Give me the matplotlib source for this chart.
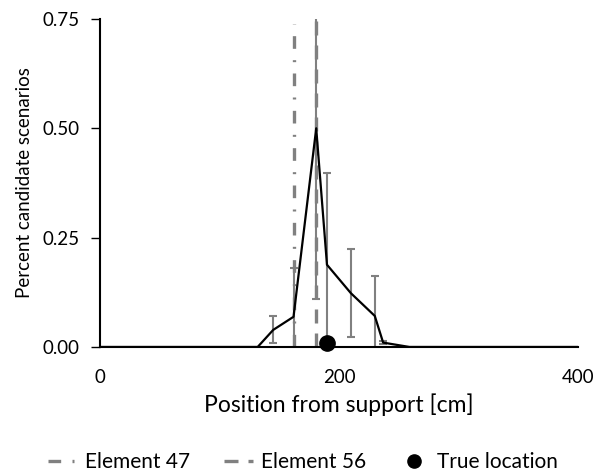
"""Candidate damage location vs. position from support."""

import matplotlib.pyplot as plt
from matplotlib.lines import Line2D

plt.rcParams["font.family"] = ["Lato", "DejaVu Sans"]
plt.rcParams["font.size"] = 13.5

# Mean share of candidate scenarios per position
pos_cm = [0, 132, 145, 162, 181, 190, 210, 230, 237, 259, 400]
share = [0.0, 0.0, 0.039, 0.069, 0.50, 0.188, 0.123, 0.071, 0.010, 0.0, 0.0]

# Error bars (position, mean, half width)
err_pos = [145, 162, 181, 190, 210, 230, 237]
err_mean = [0.039, 0.069, 0.50, 0.188, 0.123, 0.071, 0.010]
err_half = [0.031, 0.111, 0.39, 0.209, 0.100, 0.091, 0.004]

element_47 = 162
element_56 = 181
true_location = 190
true_y = 0.01

grey = "#808080"
dashdot = (0, (3.8, 3.4, 0.6, 3.4))
dashed = (0, (4.2, 3.0))

fig = plt.figure(figsize=(6.02, 4.74), dpi=100)
ax = fig.add_axes([0.166, 0.268, 0.794, 0.692])

ax.errorbar(err_pos, err_mean, yerr=err_half, fmt="none", ecolor=grey,
            elinewidth=1.5, capsize=3, capthick=1.5, zorder=2)
ax.plot(pos_cm, share, color="black", lw=1.6, zorder=3)

ax.axvline(element_47, ymin=0, ymax=0.985, color=grey, lw=2.4,
           linestyle=dashdot, zorder=2)
ax.axvline(element_56, color=grey, lw=2.4, linestyle=dashed, zorder=2)
ax.plot([true_location], [true_y], "o", color="black", ms=11, zorder=4, clip_on=False)

ax.set_xlim(0, 400)
ax.set_ylim(0, 0.75)
ax.set_xticks([0, 200, 400])
ax.set_yticks([0, 0.25, 0.5, 0.75])
ax.set_yticklabels(["0.00", "0.25", "0.50", "0.75"])
ax.tick_params(axis="x", length=0, pad=16)
ax.tick_params(axis="y", length=6.5, width=1, direction="out", pad=8)
for side in ["top", "right"]:
    ax.spines[side].set_visible(False)
for side in ["left", "bottom"]:
    ax.spines[side].set_linewidth(1.5)
ax.set_xlabel("Position from support [cm]", labelpad=5, fontsize=16.5)
ax.set_ylabel("Percent candidate scenarios", labelpad=7)

handles = [
    Line2D([], [], color=grey, lw=2.4, linestyle=dashdot),
    Line2D([], [], color=grey, lw=2.4, linestyle=dashed),
    Line2D([], [], color="black", marker="o", ms=9.5, linestyle="none"),
]
fig.legend(handles, ["Element 47", "Element 56", "True location"],
           loc="center", bbox_to_anchor=(0.503, 0.025), ncol=3, frameon=False,
           fontsize=15, handlelength=1.4, columnspacing=1.6, handletextpad=0.4)

fig.savefig("out.png", dpi=100)
